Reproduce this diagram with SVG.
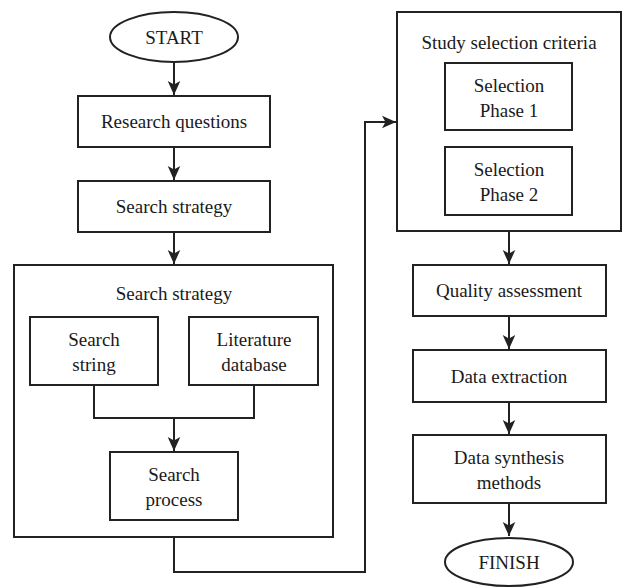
<svg xmlns="http://www.w3.org/2000/svg" width="625" height="588" viewBox="0 0 625 588" font-family="'Liberation Serif', 'DejaVu Serif', serif">
  <style>
    .box { fill: #fff; stroke: #222; stroke-width: 2; }
    .line { fill: none; stroke: #222; stroke-width: 2; }
    .label { font-family: 'Liberation Serif', 'DejaVu Serif', serif; font-size: 19px; fill: #1a1a1a; text-anchor: middle; }
  </style>
  <defs>
    <marker id="arrow" viewBox="0 0 10 10" refX="10" refY="5" markerWidth="7" markerHeight="7" markerUnits="strokeWidth" orient="auto">
      <path d="M0,0.5 L10,5 L0,9.5 L2.5,5 z" fill="#222"/>
    </marker>
  </defs>
  <rect width="625" height="588" fill="#fff"/>

  <g id="start">
    <ellipse class="box" cx="174" cy="37" rx="64" ry="25"/>
    <text class="label" x="174" y="44">START</text>
  </g>
  <g id="research-questions">
    <rect class="box" x="78" y="96" width="192" height="51"/>
    <text class="label" x="174" y="128">Research questions</text>
  </g>
  <g id="search-strategy">
    <rect class="box" x="78" y="181" width="192" height="51"/>
    <text class="label" x="174" y="213">Search strategy</text>
  </g>
  <g id="search-strategy-group">
    <rect class="box" x="14" y="265" width="319" height="272"/>
    <text class="label" x="174" y="300">Search strategy</text>
  </g>
  <g id="search-string">
    <rect class="box" x="30" y="317" width="128" height="68"/>
    <text class="label" x="94" y="346">Search</text>
    <text class="label" x="94" y="371">string</text>
  </g>
  <g id="literature-database">
    <rect class="box" x="189" y="317" width="129" height="68"/>
    <text class="label" x="254" y="346">Literature</text>
    <text class="label" x="254" y="371">database</text>
  </g>
  <g id="search-process">
    <rect class="box" x="110" y="452" width="128" height="68"/>
    <text class="label" x="174" y="481">Search</text>
    <text class="label" x="174" y="506">process</text>
  </g>

  <g id="study-selection">
    <rect class="box" x="397" y="12" width="224" height="219"/>
    <text class="label" x="509" y="49">Study selection criteria</text>
  </g>
  <g id="selection-phase-1">
    <rect class="box" x="445" y="63" width="127" height="67"/>
    <text class="label" x="509" y="92">Selection</text>
    <text class="label" x="509" y="117">Phase 1</text>
  </g>
  <g id="selection-phase-2">
    <rect class="box" x="445" y="147" width="127" height="68"/>
    <text class="label" x="509" y="176">Selection</text>
    <text class="label" x="509" y="201">Phase 2</text>
  </g>
  <g id="quality-assessment">
    <rect class="box" x="413" y="265" width="193" height="51"/>
    <text class="label" x="509" y="297">Quality assessment</text>
  </g>
  <g id="data-extraction">
    <rect class="box" x="413" y="350" width="193" height="52"/>
    <text class="label" x="509" y="383">Data extraction</text>
  </g>
  <g id="data-synthesis">
    <rect class="box" x="413" y="435" width="193" height="68"/>
    <text class="label" x="509" y="464">Data synthesis</text>
    <text class="label" x="509" y="489">methods</text>
  </g>
  <g id="finish">
    <ellipse class="box" cx="509" cy="562" rx="64" ry="24"/>
    <text class="label" x="509" y="569">FINISH</text>
  </g>

  <g id="connectors">
    <line class="line" x1="174" y1="62" x2="174" y2="95" marker-end="url(#arrow)"/>
    <line class="line" x1="174" y1="147" x2="174" y2="180" marker-end="url(#arrow)"/>
    <line class="line" x1="174" y1="232" x2="174" y2="264" marker-end="url(#arrow)"/>
    <polyline class="line" points="94,385 94,418 254,418 254,385"/>
    <line class="line" x1="174" y1="418" x2="174" y2="451" marker-end="url(#arrow)"/>
    <polyline class="line" points="174,537 174,572 365,572 365,122 396,122" marker-end="url(#arrow)"/>
    <line class="line" x1="509" y1="231" x2="509" y2="264" marker-end="url(#arrow)"/>
    <line class="line" x1="509" y1="316" x2="509" y2="349" marker-end="url(#arrow)"/>
    <line class="line" x1="509" y1="402" x2="509" y2="434" marker-end="url(#arrow)"/>
    <line class="line" x1="509" y1="503" x2="509" y2="536" marker-end="url(#arrow)"/>
  </g>
</svg>
